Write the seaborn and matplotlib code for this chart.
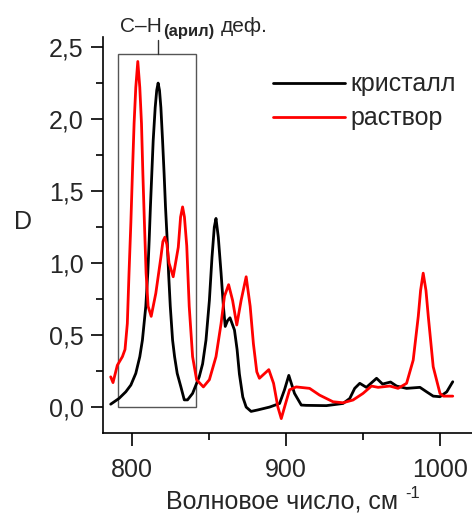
import numpy as np
import pandas as pd
import matplotlib.pyplot as plt
import seaborn as sns
from matplotlib.patches import Rectangle
from matplotlib.ticker import FixedLocator, MultipleLocator

# -----------------------------------
# Data
# -----------------------------------
wn_crystal = [786.1, 791.5, 795.9, 799.2, 802.4, 805.0, 806.7, 808.9, 810.2, 811.1,
              811.9, 812.8, 813.7, 815.0, 816.0, 816.9, 817.8, 818.7, 819.8, 820.8,
              821.7, 822.8, 823.7, 824.8, 826.3, 827.6, 829.3, 831.7, 833.9, 836.0,
              839.3, 843.6, 845.8, 848.0, 850.2, 851.9, 853.4, 854.5, 856.0, 857.8,
              859.3, 860.5, 862.0, 863.6, 866.5, 868.2, 869.7, 871.9, 874.1, 877.3,
              881.6, 889.3, 895.8, 899.0, 901.8, 905.5, 909.9, 913.0, 926.2, 937.0,
              941.4, 944.6, 947.9, 952.2, 958.8, 962.7, 967.9, 971.8, 978.3, 987.0,
              991.3, 995.6, 1000.0, 1004.4, 1008.3]
d_crystal = [0.02, 0.06, 0.106, 0.153, 0.234, 0.35, 0.465, 0.70, 0.93, 1.16,
             1.39, 1.62, 1.85, 2.08, 2.20, 2.25, 2.20, 2.08, 1.85, 1.62,
             1.39, 1.16, 0.93, 0.70, 0.465, 0.35, 0.234, 0.14, 0.05, 0.05,
             0.095, 0.21, 0.30, 0.465, 0.74, 1.04, 1.25, 1.31, 1.18, 0.93,
             0.70, 0.56, 0.60, 0.62, 0.535, 0.40, 0.23, 0.07, 0.0, -0.03,
             -0.02, 0.0, 0.025, 0.12, 0.22, 0.095, 0.014, 0.012, 0.01, 0.025,
             0.06, 0.13, 0.165, 0.137, 0.20, 0.16, 0.174, 0.146, 0.13, 0.137,
             0.106, 0.076, 0.072, 0.106, 0.176]

wn_solution = [786.1, 787.6, 790.4, 793.7, 795.4, 796.9, 798.0, 799.2, 800.2, 801.3,
               802.4, 803.7, 805.0, 806.1, 807.0, 808.0, 809.1, 810.4, 812.4, 815.4,
               818.7, 820.0, 821.3, 822.6, 824.0, 826.7, 830.0, 831.5, 832.8, 834.0,
               835.5, 837.1, 839.3, 841.9, 846.3, 850.2, 854.5, 857.8, 860.0, 862.7,
               865.3, 868.0, 870.8, 874.1, 876.7, 878.8, 881.0, 882.7, 888.8, 891.9,
               894.7, 896.9, 899.7, 902.3, 906.6, 915.3, 921.8, 930.5, 937.0, 943.5,
               950.0, 955.5, 959.8, 967.4, 972.8, 978.3, 982.6, 985.9, 987.4, 989.1,
               990.9, 992.4, 995.6, 1000.0, 1002.2, 1008.3]
d_solution = [0.21, 0.17, 0.29, 0.35, 0.40, 0.58, 0.93, 1.28, 1.62, 1.97,
              2.22, 2.40, 2.22, 1.97, 1.62, 1.28, 0.93, 0.70, 0.63, 0.79,
              1.04, 1.15, 1.18, 1.13, 1.00, 0.905, 1.11, 1.32, 1.39, 1.32,
              1.12, 0.70, 0.35, 0.19, 0.14, 0.19, 0.35, 0.58, 0.77, 0.85,
              0.74, 0.57, 0.74, 0.905, 0.70, 0.44, 0.245, 0.20, 0.26, 0.165,
              0.0, -0.08, 0.025, 0.12, 0.14, 0.13, 0.083, 0.037, 0.03, 0.049,
              0.095, 0.146, 0.137, 0.146, 0.13, 0.165, 0.326, 0.63, 0.81, 0.93,
              0.81, 0.63, 0.28, 0.095, 0.076, 0.076]

series_names = ['кристалл', 'раствор']
series_colors = ['black', 'red']

x_major = [800, 900, 1000]
x_major_labels = ['800', '900', '1000']
y_major = [0.0, 0.5, 1.0, 1.5, 2.0, 2.5]
y_major_labels = ['0,0', '0,5', '1,0', '1,5', '2,0', '2,5']

df = pd.concat([
    pd.DataFrame({'wn': wn_crystal, 'D': d_crystal, 'sample': series_names[0]}),
    pd.DataFrame({'wn': wn_solution, 'D': d_solution, 'sample': series_names[1]}),
])

# -----------------------------------
# Plot
# -----------------------------------
sns.set_style('ticks')
plt.rcParams['font.family'] = ['Liberation Sans', 'DejaVu Sans']

fig = plt.figure(figsize=(4.72, 5.13), dpi=100)
ax = fig.add_axes([103 / 472, 1 - 433 / 513, 369 / 472, 396 / 513])

sns.lineplot(
    data=df, x='wn', y='D', hue='sample',
    palette=dict(zip(series_names, series_colors)),
    sort=False, estimator=None, linewidth=2.0, ax=ax, legend=False
)

# box around the C-H deformation region
ax.add_patch(Rectangle((790.9, 0.0), 50.8, 2.45, fill=False,
                       edgecolor='#555555', linewidth=1.0, zorder=1))
ax.plot([816.7, 816.7], [2.45, 2.55], color='#333333', lw=1.0, clip_on=False)

fig.text(120 / 472, 1 - 32 / 513, 'C–H', fontsize=15, va='baseline')
fig.text(163 / 472, 1 - 36 / 513, '(арил)', fontsize=12, fontweight='bold',
         va='baseline')
fig.text(221 / 472, 1 - 32 / 513, 'деф.', fontsize=15, va='baseline')

ax.set_xlim(781.1, 1020.8)
ax.set_ylim(-0.18, 2.57)

ax.xaxis.set_major_locator(FixedLocator(x_major))
ax.set_xticklabels(x_major_labels)
ax.xaxis.set_minor_locator(MultipleLocator(50))
ax.yaxis.set_major_locator(FixedLocator(y_major))
ax.set_yticklabels(y_major_labels)
ax.yaxis.set_minor_locator(MultipleLocator(0.25))

ax.tick_params(which='major', direction='out', length=9, width=1.2,
               labelsize=18, color='black')
ax.tick_params(axis='x', which='major', pad=9)
ax.tick_params(axis='y', which='major', pad=5)
ax.tick_params(which='minor', direction='out', length=5, width=1.2, color='black')

sns.despine(ax=ax)
for s in ['left', 'bottom']:
    ax.spines[s].set_color('black')
    ax.spines[s].set_linewidth(1.2)

ax.set_xlabel('Волновое число, см', fontsize=18)
ax.xaxis.set_label_coords(0.485, -0.174)
ax.xaxis.label.set_va('center')
ax.text(0.818, -0.152, '-1', transform=ax.transAxes, fontsize=12,
        ha='left', va='center')
ax.set_ylabel('D', fontsize=18, rotation=0, ha='center', va='center')
ax.yaxis.set_label_coords(-0.217, 0.533)

handles = [plt.Line2D([], [], color=c, lw=2.0) for c in series_colors]
ax.legend(handles, series_names, loc='upper left',
          bbox_to_anchor=(255 / 472, 1 - 55 / 513), bbox_transform=fig.transFigure,
          frameon=False, fontsize=18, handlelength=2.9, handletextpad=0.2,
          labelspacing=0.4, borderpad=0.2)

plt.savefig('out.png', dpi=100)
